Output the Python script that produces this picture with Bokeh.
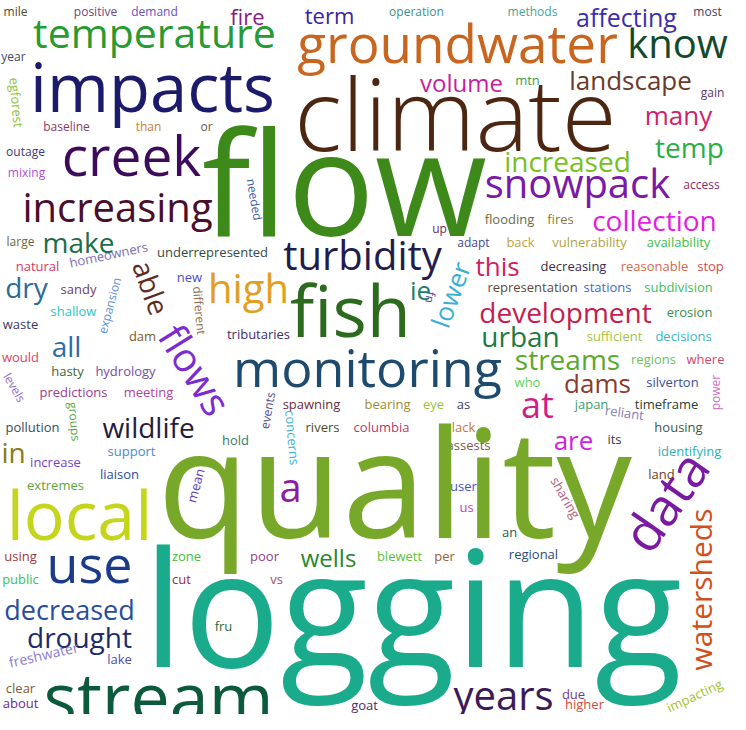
from bokeh.plotting import figure
from bokeh.models import ColumnDataSource, Range1d
from bokeh.core.properties import value
from bokeh.embed import file_html
from bokeh.resources import INLINE
import math

# ---- horizontal words: text, font size (weight), colour ----
h_words = ["mile","positive","demand","fire","term","operation","methods","affecting","most",
    "temperature","groundwater","know","year","impacts","climate","volume","mtn","landscape","gain",
    "baseline","than","or","outage","mixing","creek","flow","increasing","increased","temp","many",
    "snowpack","access","collection","flooding","fires","up","adapt","turbidity","make","large",
    "underrepresented","natural","high","new","dry","sandy","shallow","waste","dam","tributaries",
    "all","would","hasty","hydrology","predictions","meeting","pollution","wildlife","hold","in",
    "support","increase","liaison","extremes","local","a","spawning","bearing","eye","as","rivers",
    "columbia","lack","assests","ie","fish","monitoring","this","back","vulnerability","availability",
    "decreasing","reasonable","stop","representation","stations","subdivision","development","erosion",
    "urban","sufficient","decisions","streams","regions","where","who","dams","silverton","at","japan",
    "timeframe","housing","are","its","identifying","land","an","user","us","regional","logging","use",
    "decreased","drought","using","public","zone","cut","fru","lake","clear","about","stream","years",
    "due","higher","goat","poor","wells","blewett","per","vs","quality"]
h_size = [12,12,12,22,22,12,12,25,12,
    41,53,40,12,67,100,24,13,26,12,
    12,12,12,12,12,55,145,40,28,28,26,
    40,12,28,13,13,12,12,40,28,12,
    13,13,40,13,28,13,13,13,13,13,
    28,13,13,13,13,13,13,28,13,28,
    13,13,13,13,68,40,13,13,13,13,13,
    13,13,13,26,72,52,26,13,13,13,
    13,13,13,13,13,13,28,13,
    28,13,13,28,13,13,13,26,13,36,13,
    13,13,26,13,13,13,13,13,13,13,161,52,
    27,28,13,13,13,13,13,13,13,13,70,40,
    13,13,13,13,24,13,13,13,151]
h_color = ["#4b4a30","#6b4a7a","#6a4fc0","#8b1a89","#3b22a6","#3c8f8a","#45a5a0","#3b2fae","#4a3d5a",
    "#279a32","#c8651f","#134a2c","#3e4a6a","#1c1a6b","#4d2611","#c41f9f","#3aa04a","#6a3a2a","#5a3a6a",
    "#8b3c5e","#cf7a3b","#5a5a4a","#3d3b78","#b04fd4","#3e0a5b","#3d8a1a","#4a0e2b","#78bf1c","#2aae48","#cf1f6e",
    "#7a18a8","#8a2a6a","#e31ee0","#6b6a45","#8a7a3a","#6a2a5a","#3d4a8a","#221c4c","#1a6e4a","#6a6a3a",
    "#374a3c","#d23a66","#e39e22","#4b4bd0","#2a6b9c","#6b3d6a","#2fc3c4","#3b3a5e","#7b5a2b","#3e2e6e",
    "#2c6ca8","#de3f62","#3d6a3c","#7b4ba6","#9b3c8c","#b0459e","#3c4a5c","#1f1d3e","#3a7a6c","#8b7a1a",
    "#4a8ac8","#7c3fcf","#2b4c9b","#5aa83c","#c5d51c","#8e1ba6","#6d2c3c","#a38a2e","#9cc23a","#3e3d6b","#4d4b2c",
    "#b23b6c","#c27b38","#7b5d4c","#1c7c6c","#2c6a1e","#1e4a6e","#d21c66","#c4a03c","#b2a245","#3cc04c",
    "#3c2c4e","#d3694b","#cf4d4d","#5a4a3c","#3b6bcb","#40c05b","#c41e4e","#3a8c4c",
    "#1e7a40","#a4c43b","#3db3b5","#5aa82e","#6cbf5c","#cf4b6d","#5bd45a","#8b3b2e","#3c4c9c","#d11c8b","#3ba26b",
    "#2d3d2f","#3b5b4b","#d21fdf","#3b3b3b","#2ab2b4","#6b3b2c","#2c5a4c","#4d4ec2","#c444c4","#2c4b7a","#1aaa8c","#1c3a8a",
    "#2a4c9c","#1c2a6a","#9b3a3a","#3cbf5c","#3cc03c","#9b2b3b","#2b6b3b","#4d4db0","#7c5c3c","#6a2b8d","#0c5a3c","#3a1a57",
    "#6b3b8b","#d14b3b","#4b2b6c","#8d3d8d","#2a882e","#5cc23c","#9b5a3b","#a24d6d","#78a82a"]
# layout (centre x, baseline y in page pixels)
h_x = [23,103,162,255,337,424,540,634,715,
    162,465,685,21,160,471,469,535,638,720,
    74,156,214,33,34,139,352,125,575,697,686,
    585,709,662,517,568,447,481,370,86,28,
    220,45,256,197,34,86,81,28,150,266,
    74,28,75,133,81,156,40,156,243,21,
    139,63,127,63,87,298,319,395,441,471,330,
    389,471,476,428,358,375,505,528,597,686,
    581,662,718,540,615,686,573,697,
    528,622,691,575,661,713,535,605,680,545,599,
    674,686,581,622,697,669,517,471,474,541,420,97,
    77,87,28,28,194,189,231,127,28,28,166,511,
    581,592,372,272,336,407,452,284,402]
h_y = [17,17,17,25,24,17,17,27,17,
    47,62,58,62,110,147,92,86,90,98,
    132,132,132,157,178,175,230,222,172,158,125,
    198,190,231,225,225,234,248,270,253,247,
    258,272,303,283,298,295,317,330,342,340,
    357,363,377,377,398,398,433,438,446,463,
    457,468,480,491,538,502,410,410,410,410,433,
    433,433,451,300,335,386,276,248,248,248,
    272,272,272,293,293,293,323,318,
    347,342,342,370,365,365,388,393,388,418,410,
    410,433,450,445,457,480,538,492,513,560,661,582,
    620,648,562,585,562,585,632,665,694,709,721,710,
    700,710,711,562,567,562,562,585,532]

# ---- rotated words ----
r_words = ["egforest","homeowners","able","expansion","different","needed","flows","levels","groups",
    "mean","events","concerns","fn","lower","power","reliant","data","watersheds","sharing",
    "freshwater","impacting"]
r_size = [13,13,28,12,12,12,40,12,12,13,12,13,12,26,12,13,52,30,13,14,13]
r_color = ["#8ac43a","#7d6eb5","#5c2c1e","#5d8fd4","#8d6c4c","#3b5aa6","#7c2bd3","#8b6fd0","#5aa64e",
    "#5d3fb5","#4b4a8b","#3cb3e0","#5a4a8a","#3aafd3","#d26bc0","#8a7cb3","#7a1aa3","#d14f1b","#b2607e",
    "#8c7ccf","#a3c22b"]
r_x = [24,116,159,117,207,262,203,22,82,203,275,300,438,458,723,632,672,708,573,51,702]
r_y = [110,262,295,313,318,207,377,395,429,493,418,445,305,302,400,420,508,597,505,662,703]
r_angle = [-85,12,-70,75,-85,-80,-58,-60,-85,75,80,-85,-100,70,90,-8,55,90,-60,13,25]

FONT = "Open Sans"

def anchor_y(baseline, size):
    # empirical font-metric correction between the anchor and the drawn baseline
    return baseline - (0.34 * size - 6)

p = figure(width=730, height=714, x_range=Range1d(8, 738), y_range=Range1d(722, 8),
           output_backend="svg", toolbar_location=None, min_border=0)
p.axis.visible = False
p.grid.visible = False
p.outline_line_color = None
p.background_fill_color = "white"
p.border_fill_color = "white"

hs = ColumnDataSource(dict(x=h_x, y=[anchor_y(b, s) for b, s in zip(h_y, h_size)], text=h_words,
                           size=[f"{s}px" for s in h_size], color=h_color))
p.text(x="x", y="y", text="text", source=hs, text_font_size="size", text_color="color",
       text_font=value(FONT), text_align="center", text_baseline="alphabetic")

rs = ColumnDataSource(dict(x=r_x, y=r_y, text=r_words, size=[f"{s}px" for s in r_size], color=r_color,
                           angle=[math.radians(a) for a in r_angle]))
p.text(x="x", y="y", text="text", source=rs, text_font_size="size", text_color="color",
       angle="angle", text_font=value(FONT), text_align="center", text_baseline="middle")

open("out.html", "w").write(file_html(p, INLINE))
